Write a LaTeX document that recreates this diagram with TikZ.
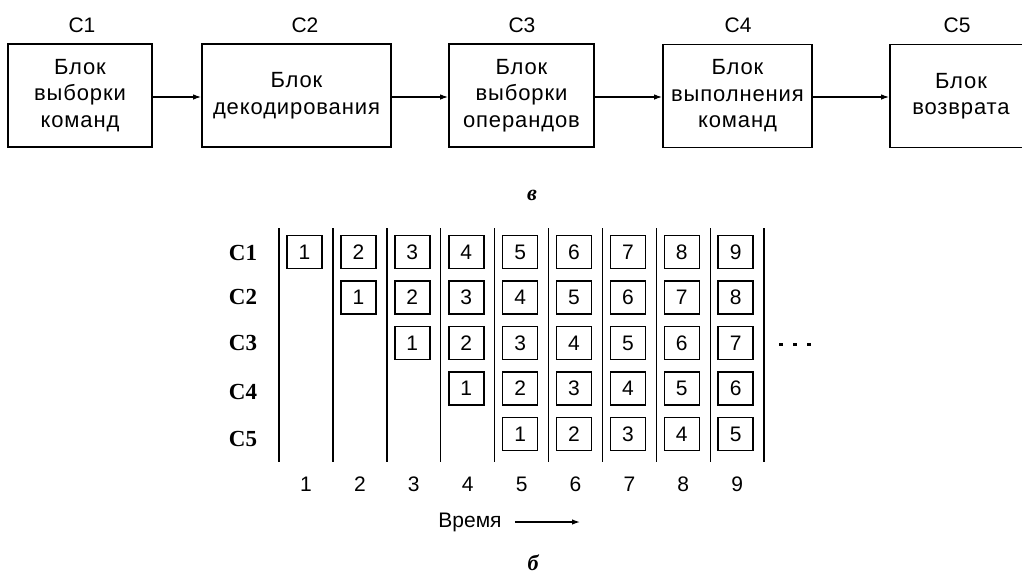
\documentclass[tikz,border=0pt]{standalone}
\usepackage{fontspec}
\setmainfont{Liberation Sans}
\newfontfamily\blkfont[LetterSpace=4]{Liberation Sans}
\newfontfamily\serifrm{Liberation Serif}
\usetikzlibrary{arrows.meta}
\begin{document}
\begin{tikzpicture}[x=1pt,y=-1pt,
  blk/.style={draw,line width=1.7pt,minimum height=103pt,inner sep=0pt,align=center,
    font=\blkfont\fontsize{22}{26.5}\selectfont},
  toplbl/.style={font=\fontsize{21}{24}\selectfont,inner sep=0pt},
  conn/.style={line width=1.3pt,-{Latex[length=8pt,width=5.5pt]}},
  cell/.style={draw,line width=1.6pt,minimum width=35pt,minimum height=33pt,inner sep=0pt,
    font=\fontsize{21}{24}\selectfont},
  rowlbl/.style={font=\serifrm\bfseries\fontsize{23}{26}\selectfont,inner sep=0pt},
  collbl/.style={font=\fontsize{21}{24}\selectfont,inner sep=0pt},
  gridline/.style={line width=1.4pt},
  sublbl/.style={font=\serifrm\bfseries\itshape\fontsize{22}{24}\selectfont,inner sep=0pt}]
\useasboundingbox[fill=white] (0,0) rectangle (1022,576);

% top blocks
\node[blk,minimum width=144pt] (b1) at (80,95.5) {Блок\\выборки\\команд};
\node[blk,minimum width=189pt] (b2) at (296.5,95.5) {Блок\\декодирования};
\node[blk,minimum width=145pt] (b3) at (521.5,95.5) {Блок\\выборки\\операндов};
\node[blk,minimum width=149pt] (b4) at (737.5,96) {Блок\\выполнения\\команд};
\node[blk,minimum width=142pt,text width=142pt] (b5) at (961,96) {Блок\\возврата};

\node[toplbl] (l1) at (82,25) {C1};
\node[toplbl] (l2) at (305,25) {C2};
\node[toplbl] (l3) at (522,25) {C3};
\node[toplbl] (l4) at (738,25) {C4};
\node[toplbl] (l5) at (957,25) {C5};

\draw[conn] (b1.east |- 0,97) -- (b2.west |- 0,97);
\draw[conn] (b2.east |- 0,97) -- (b3.west |- 0,97);
\draw[conn] (b3.east |- 0,97) -- (b4.west |- 0,97);
\draw[conn] (b4.east |- 0,97) -- (b5.west |- 0,97);

\node[sublbl] (sa) at (532,195) {в};

% grid
\foreach \k in {0,...,9} {
  \draw[gridline] ({279+53.9*\k},228) -- ({279+53.9*\k},462);
}
\foreach \r/\ly in {1/253,2/297,3/343,4/392,5/439} {
  \node[rowlbl] (r\r) at (243,\ly) {C\r};
}
\foreach \r in {1,...,5} {
  \foreach \c in {\r,...,9} {
    \pgfmathtruncatemacro{\n}{\c-\r+1}
    \node[cell] (c\r-\c) at ({304.5+53.9*(\c-1)},{252+45.5*(\r-1)}) {\n};
  }
}
\foreach \c in {1,...,9} {
  \node[collbl] (n\c) at ({306+53.9*(\c-1)},484) {\c};
}
\foreach \dx in {781,795,809} {
  \fill (\dx-2,342.5) rectangle (\dx+2,345.5);
}

\node[font=\fontsize{21}{24}\selectfont,inner sep=0pt] (tm) at (470,522) {Время};
\coordinate (tmend) at (580,522);
\draw[line width=1.3pt,-{Latex[length=8pt,width=5.5pt]}] ([xshift=13pt]tm.east) -- (tmend);

\node[sublbl] (sb) at (533,563) {б};
\end{tikzpicture}
\end{document}
